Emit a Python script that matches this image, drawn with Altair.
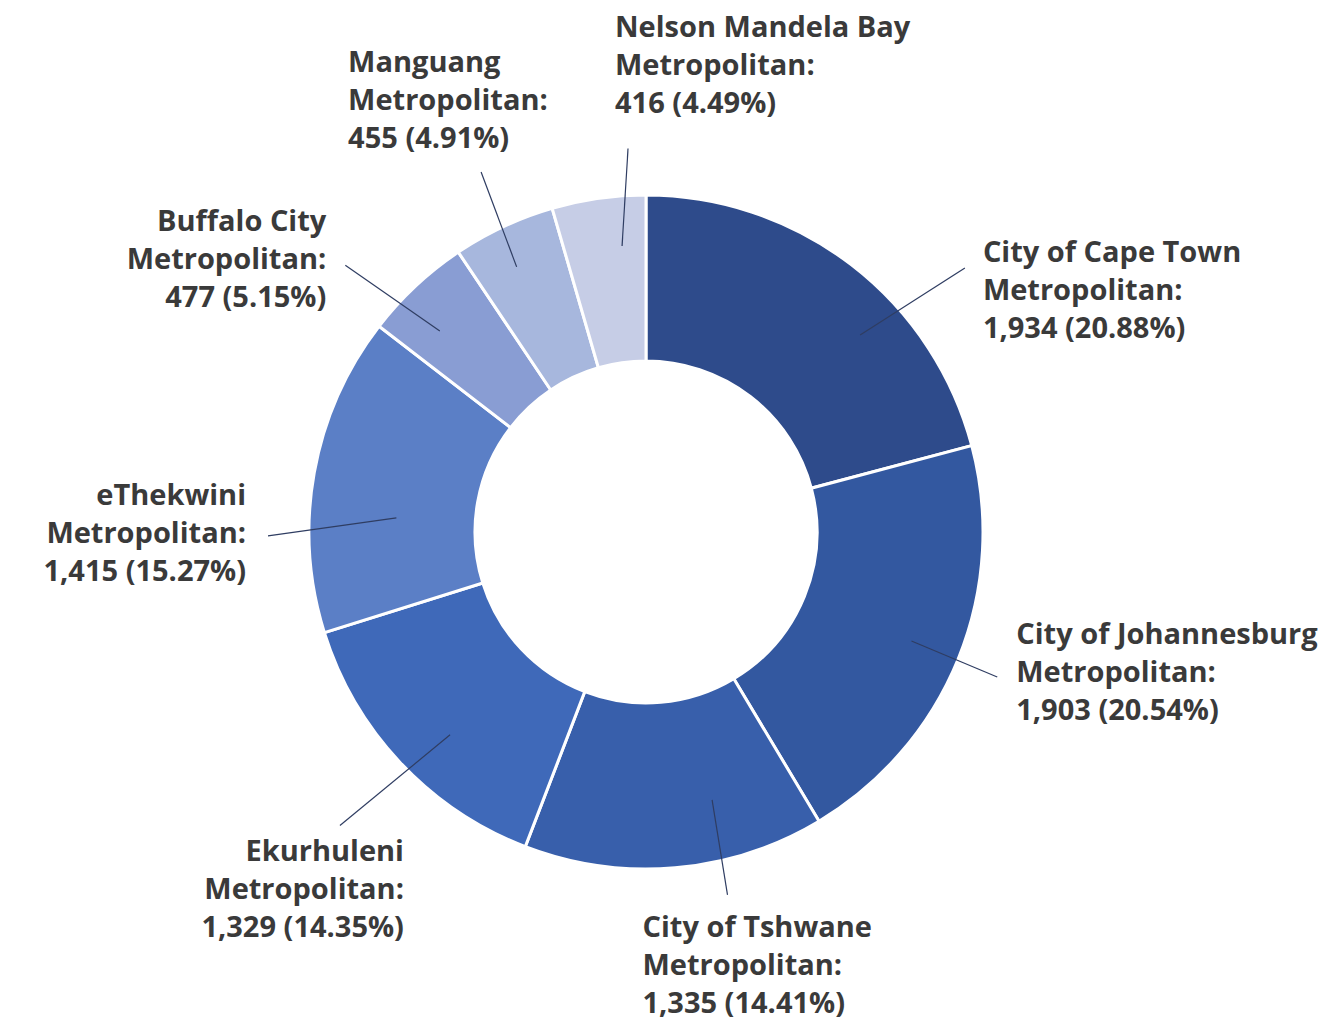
import math
import altair as alt
import pandas as pd

# ---- data ----
short_names = ["City of Cape Town", "City of Johannesburg", "City of Tshwane", "Ekurhuleni",
               "eThekwini", "Buffalo City", "Manguang", "Nelson Mandela Bay"]
values = [1934, 1903, 1335, 1329, 1415, 477, 455, 416]
colors = ["#2e4b8b", "#3358a0", "#385fab", "#3f69b9", "#5b7fc6", "#899dd3", "#a7b7dd", "#c6cde6"]

# ---- label layout (angle nudge from slice middle, radii, text offsets of first line) ----
lead_a0 = [9.8, 0.2, -8.9, -2.8, -6.9, -2.6, -1.0, 3.3]
lead_r0 = [291, 287, 276, 282, 250, 288, 295, 287]
lead_a1 = [12.8, 0.3, -7.7, -0.6, -10.7, -5.3, 0.4, 5.4]
lead_r1 = [414, 380, 372, 424, 378, 402, 396, 384]
text_dx = [18, 19, -85, 64, -22, -19, -133, -13]
text_dy = [-15, -42, 33, 27, -40, -43, -109, -120]
text_align = ["left", "left", "left", "right", "right", "right", "left", "left"]

CX, CY = 638, 524
R_OUT, R_IN = 337, 171

total = sum(values)
names = [s + " Metropolitan" for s in short_names]
rows = []
cum = 0
for i, (s, n, v) in enumerate(zip(short_names, names, values)):
    mid = (cum + v / 2) / total * 360
    cum += v
    a0 = math.radians(mid + lead_a0[i])
    a1 = math.radians(mid + lead_a1[i])
    x0 = CX + lead_r0[i] * math.sin(a0)
    y0 = CY - lead_r0[i] * math.cos(a0)
    x1 = CX + lead_r1[i] * math.sin(a1)
    y1 = CY - lead_r1[i] * math.cos(a1)
    pct = v / total * 100
    rows.append({
        "name": n, "value": v, "order": i,
        "label": f"{s}\nMetropolitan:\n{v:,} ({pct:.2f}%)",
        "x0": x0, "y0": y0, "x1": x1, "y1": y1,
        "tx": x1 + text_dx[i], "ty": y1 + text_dy[i], "align": text_align[i],
    })
df = pd.DataFrame(rows)

color_scale = alt.Scale(domain=names, range=colors)

donut = alt.Chart(df).mark_arc(innerRadius=R_IN, outerRadius=R_OUT, stroke="white", strokeWidth=3).encode(
    theta=alt.Theta("value:Q", stack=True),
    order=alt.Order("order:Q"),
    color=alt.Color("name:N", scale=color_scale, legend=None),
    x=alt.value(CX), y=alt.value(CY),
)

leaders = alt.Chart(df).mark_rule(color="#2f3d62", strokeWidth=1.2).encode(
    x=alt.X("x0:Q", scale=None, axis=None),
    y=alt.Y("y0:Q", scale=None, axis=None),
    x2="x1:Q", y2="y1:Q",
)

def text_layer(align):
    return alt.Chart(df[df["align"] == align]).mark_text(
        align=align, baseline="middle", lineBreak="\n", lineHeight=38,
        font="Open Sans", fontWeight="bold", fontSize=29, color="#3a3a3a",
    ).encode(
        x=alt.X("tx:Q", scale=None, axis=None),
        y=alt.Y("ty:Q", scale=None, axis=None),
        text="label:N",
    )

chart = alt.layer(donut, leaders, text_layer("left"), text_layer("right")).properties(
    width=1318, height=1014, padding=0, autosize="none", background="white",
).configure_view(strokeWidth=0)

chart.save("out.html", embed_options={"renderer": "svg", "actions": False})
